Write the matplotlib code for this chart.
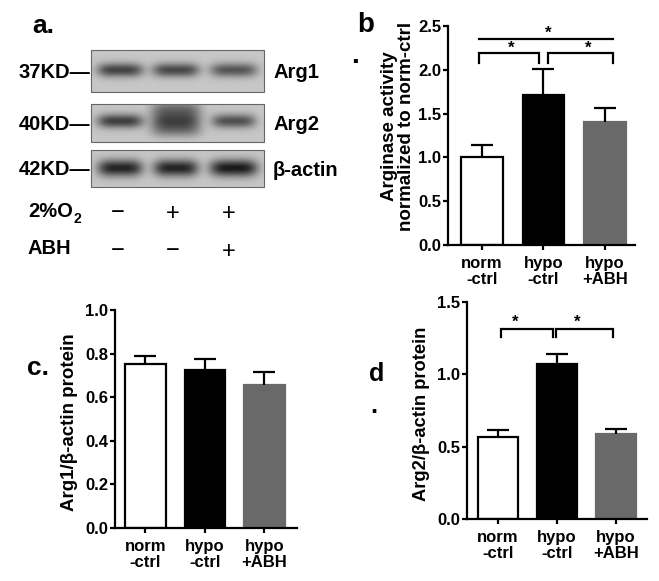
import numpy as np
import matplotlib
matplotlib.use("Agg")
import matplotlib.pyplot as plt

plt.rcParams['font.family'] = ['Liberation Sans', 'DejaVu Sans']
plt.rcParams['font.weight'] = 'bold'

W, H = 659, 581

# ---------------- data ----------------
groups = ["norm\n-ctrl", "hypo\n-ctrl", "hypo\n+ABH"]
bar_colors = ["white", "black", "#696969"]
edge_colors = ["black", "black", "#696969"]

# panel b: arginase activity
act_mean = [1.00, 1.71, 1.40]
act_err = [0.14, 0.30, 0.16]
# panel c: Arg1 / beta-actin
arg1_mean = [0.752, 0.725, 0.656]
arg1_err = [0.038, 0.052, 0.060]
# panel d: Arg2 / beta-actin
arg2_mean = [0.567, 1.068, 0.587]
arg2_err = [0.048, 0.072, 0.035]

# western blot band intensities (darkness 0..1) per lane
blot_rows = ["Arg1", "Arg2", "β-actin"]
blot_kd = ["37KD—", "40KD—", "42KD—"]
arg1_band = [0.52, 0.50, 0.45]
arg2_band = [0.54, 0.10, 0.47]
arg2_smear = [0.0, 0.44, 0.0]
actin_band = [0.64, 0.64, 0.68]
o2_signs = ["−", "+", "+"]
abh_signs = ["−", "−", "+"]

fig = plt.figure(figsize=(W / 100, H / 100), dpi=100)
fig.patch.set_facecolor("white")

# background axes in pixel coordinates
bg = fig.add_axes([0, 0, 1, 1])
bg.set_xlim(0, W)
bg.set_ylim(H, 0)
bg.axis("off")


def px_axes(left, top, right, bottom):
    return fig.add_axes([left / W, 1 - bottom / H, (right - left) / W, (bottom - top) / H])


# ---------------- panel a: blot ----------------
lane_x = [120, 176, 234]
rows_geom = [  # y0, y1, band center y, band height, widths
    (50, 92, 70, 14, [46, 47, 47]),
    (104, 142, 121, 14, [46, 46, 44]),
    (150, 187, 168, 17, [45, 45, 48]),
]
row_dark = [arg1_band, arg2_band, actin_band]
bx0, bx1 = 91, 264
for r, (y0, y1, yc, bh, widths) in enumerate(rows_geom):
    xs = np.linspace(bx0, bx1, 260)
    ys = np.linspace(y0, y1, 80)
    X, Y = np.meshgrid(xs, ys)
    img = np.full(X.shape, 0.78)
    for i, lx in enumerate(lane_x):
        d = row_dark[r][i]
        fx = np.exp(-np.abs((X - lx) / (widths[i] / 2)) ** 4)
        fy = np.exp(-np.abs((Y - yc) / (bh / 2)) ** 2)
        img -= d * fx * fy
        if r == 1 and arg2_smear[i] > 0:
            fx2 = np.exp(-np.abs((X - lx) / 25) ** 4)
            fy2 = np.exp(-np.abs((Y - 119) / 17) ** 4)
            img -= arg2_smear[i] * fx2 * fy2
    img = np.clip(img, 0, 1)
    bg.imshow(img, cmap="gray", vmin=0, vmax=1, extent=(bx0, bx1, y1, y0),
              aspect="auto", interpolation="bilinear", zorder=1)
    bg.add_patch(plt.Rectangle((bx0, y0), bx1 - bx0, y1 - y0, fill=False,
                               edgecolor="#666666", linewidth=0.8, zorder=2))
    bg.text(90, (y0 + y1) / 2 + 1, blot_kd[r], ha="right", va="center",
            fontsize=14.5, fontweight="bold")
    bg.text(273, (y0 + y1) / 2 + 2, blot_rows[r], ha="left", va="center",
            fontsize=14.5, fontweight="bold")

bg.text(32, 33, "a.", ha="left", va="baseline", fontsize=19, fontweight="bold")
t_o2 = bg.text(28, 217, "2%O", ha="left", va="baseline", fontsize=14.5,
               fontweight="bold")
bg.annotate("2", xy=(1, 0), xycoords=t_o2, xytext=(0.5, -1.5),
            textcoords="offset points", ha="left", va="baseline",
            fontsize=10, fontweight="bold")
bg.text(28, 254, "ABH", ha="left", va="baseline", fontsize=14.5, fontweight="bold")
for i, lx in enumerate([118, 173, 229]):
    bg.text(lx, 211, o2_signs[i], ha="center", va="center_baseline", fontsize=17,
            fontweight="normal")
    bg.text(lx, 249, abh_signs[i], ha="center", va="center_baseline", fontsize=17,
            fontweight="normal")

# panel letters
bg.text(357, 32, "b", ha="left", va="baseline", fontsize=20, fontweight="bold")
bg.text(351, 63, ".", ha="left", va="baseline", fontsize=20, fontweight="bold")
bg.text(27, 375, "c.", ha="left", va="baseline", fontsize=19, fontweight="bold")
bg.text(369, 381, "d", ha="left", va="baseline", fontsize=18, fontweight="bold")
bg.text(370, 413, ".", ha="left", va="baseline", fontsize=18, fontweight="bold")


def bar_panel(ax, mean, err, ymax, ystep, xlim):
    x = np.arange(len(groups))
    ax.bar(x, mean, width=0.68, color=bar_colors, edgecolor=edge_colors,
           linewidth=1.6, zorder=2)
    ax.errorbar(x, mean, yerr=[np.zeros(len(err)), err], fmt="none",
                ecolor="black", elinewidth=1.6, capsize=0, zorder=3)
    ax.plot(x, np.array(mean) + np.array(err), linestyle="none", marker="_",
            markersize=15.5, markeredgewidth=1.6, color="black", zorder=3)
    ax.set_xlim(*xlim)
    ax.set_ylim(0, ymax)
    ticks = np.arange(0, ymax + 1e-9, ystep)
    ax.set_yticks(ticks)
    ax.set_yticklabels([f"{v:.1f}" for v in ticks])
    ax.set_xticks(x)
    ax.set_xticklabels(groups, linespacing=1.12)
    for s in ["top", "right"]:
        ax.spines[s].set_visible(False)
    for s in ["left", "bottom"]:
        ax.spines[s].set_linewidth(1.6)
    ax.tick_params(axis="both", direction="out", length=3.8, width=1.6,
                   labelsize=12)
    ax.tick_params(axis="y", pad=1)
    ax.tick_params(axis="x", pad=4)
    for lab in ax.get_xticklabels() + ax.get_yticklabels():
        lab.set_fontweight("bold")
    ax.patch.set_alpha(0)


def bracket(ax, x0, x1, yh, yd, lw=1.6):
    ax.plot([x0, x0, x1, x1], [yd, yh, yh, yd], color="black", linewidth=lw,
            clip_on=False, solid_joinstyle="miter")


def star(ax, x, y):
    ax.text(x, y, "*", ha="center", va="center", fontsize=12, fontweight="bold",
            clip_on=False)


# ---------------- panel b ----------------
axb = px_axes(448, 26, 635, 245)
bar_panel(axb, act_mean, act_err, 2.5, 0.5, (-0.553, 2.49))
axb.plot([-0.05, 2.14], [2.35, 2.35], color="black", linewidth=1.6, clip_on=False)
bracket(axb, -0.05, 0.92, 2.19, 2.08)
bracket(axb, 1.07, 2.14, 2.19, 2.08)
star(axb, 1.07, 2.42)
star(axb, 0.47, 2.25)
star(axb, 1.72, 2.25)
bg.text(398, 126, "Arginase activity\nnormalized to norm-ctrl", rotation=90,
        ha="center", va="center", fontsize=13.5, fontweight="bold",
        linespacing=0.95)

# ---------------- panel c ----------------
axc = px_axes(115, 310, 297, 528)
bar_panel(axc, arg1_mean, arg1_err, 1.0, 0.2, (-0.51, 2.55))
bg.text(70, 422, "Arg1/β-actin protein", rotation=90, ha="center", va="center",
        fontsize=13.5, fontweight="bold")

# ---------------- panel d ----------------
axd = px_axes(467, 302, 647, 519)
bar_panel(axd, arg2_mean, arg2_err, 1.5, 0.5, (-0.52, 2.53))
bracket(axd, 0.06, 0.94, 1.31, 1.26)
bracket(axd, 0.99, 1.96, 1.31, 1.26)
star(axd, 0.30, 1.36)
star(axd, 1.35, 1.36)
bg.text(421, 414, "Arg2/β-actin protein", rotation=90, ha="center", va="center",
        fontsize=13.2, fontweight="bold")

fig.savefig("out.png", dpi=100, facecolor="white")
